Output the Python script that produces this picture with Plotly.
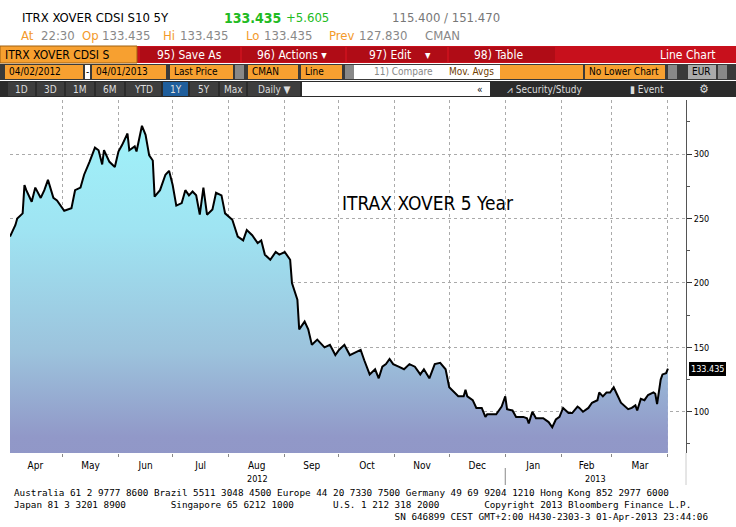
import plotly.graph_objects as go
import pandas as pd

start = "2012-04-02"
days = [0,3,4,7,8,9,12,14,17,19, 21,24,26,29,30,34,36,39,41,44, 47,49,51,52,55,58,60,62,65,66,
        69,70,73,75,77,79,80,83,86,88, 90,92,95,97,99,101,103,105,107,109, 112,114,117,119,123,126,129,131,134,137,
        139,141,144,147,149,152,155,156,159,160, 163,165,167,170,174,177,180,182,185,188,
        191,194,196,199,202,204,206,208,210,212, 215,218,221,224,227,229,232,235,
        238,241,243,245,248,251,252,253,256,258, 261,263,264,269,272,274,275,278,280,284,
        286,287,289,291,295,298,300,302,304,306, 309,311,314,315,317,320,322,325,326,328,
        330,332,334,336,338,342,344,346,347,349, 351,353,356,357,358,360,361,363,364]
values = [236,245,250,254,276,272,263,274,266,272, 280,266,264,258,256,258,272,274,284,294,
          305,303,292,303,294,290,302,307,316,303, 306,302,322,315,299,295,267,272,284,287,
          276,260,262,272,268,271,268,253,274,253, 257,270,268,254,249,236,233,241,237,231,
          233,222,218,224,222,224,218,200,187,164, 170,164,152,156,150,152,144,148,152,144,
          146,148,140,129,133,126,135,137,141,137, 135,133,137,135,129,133,126,137,
          138,133,119,116,112,112,117,112,109,103, 103,96,98,98,104,112,102,101,96,96,
          95,91,100,95,95,92,88,94,96,103, 99,99,104,103,100,103,107,109,115,112,
          115,115,119,113,107,102,103,105,101,110, 109,113,115,114,106,125,129,130,133.435]
dates = pd.to_datetime(start) + pd.to_timedelta(days, unit="D")
yticks = [100, 150, 200, 250, 300]
last_value = "133.435"

W, H = 736, 527
L, R, T, B = 10, 686, 100, 453
def px(x): return (x - L) / (R - L)
def py(y): return (B - y) / (B - T)

FONT = "DejaVu Sans Condensed, Liberation Sans Narrow, Liberation Sans, sans-serif"

fig = go.Figure()
fig.add_trace(go.Scatter(
    x=dates, y=values, mode="lines", line=dict(color="black", width=2),
    fill="tozeroy",
    fillgradient=dict(type="vertical", colorscale=[[0, "#8f94c4"], [0.25, "#9198c8"], [0.45, "#9cc2dc"], [0.75, "#9fe4f2"], [1, "#a0f2fa"]]),
    hoverinfo="x+y", showlegend=False))

fig.update_layout(
    width=W, height=H, margin=dict(l=L, r=W - R, t=T, b=H - B),
    paper_bgcolor="white", plot_bgcolor="white",
    font=dict(family=FONT, size=11, color="black"),
    xaxis=dict(range=[pd.Timestamp("2012-04-02"), pd.Timestamp("2013-04-11")],
               dtick="M1", tick0="2012-04-01", tickformat="%b", ticklabelmode="period",
               showgrid=True, griddash="dot", gridcolor="#aaaaaa", gridwidth=1,
               ticks="outside", ticklen=3, tickcolor="#888", showline=False,
               tickfont=dict(size=10, family=FONT)),
    yaxis=dict(range=[68, 342], side="right", tickvals=yticks,
               showgrid=True, griddash="dot", gridcolor="#aaaaaa",
               ticks="outside", ticklen=5, tickcolor="#333",
               minor=dict(dtick=25, ticks="outside", ticklen=3, tickcolor="#555", showgrid=False),
               showline=True, linecolor="#555", tickfont=dict(size=9, family=FONT)),
)

shapes, ann = [], []
def box(x0, x1, y0, y1, color, line=None):
    shapes.append(dict(type="rect", xref="paper", yref="paper", x0=px(x0), x1=px(x1),
                       y0=py(y1), y1=py(y0), fillcolor=color,
                       line=dict(width=0 if line is None else 1, color=line or color), layer="above"))
def txt(x, y, s, color="black", size=12, anchor="left", bold=False, fam=FONT, align="left"):
    ann.append(dict(xref="paper", yref="paper", x=px(x), y=py(y), text=("<b>%s</b>" % s) if bold else s,
                    showarrow=False, xanchor=anchor, yanchor="middle", align=align,
                    font=dict(color=color, size=size, family=fam)))

# header lines
txt(20, 18, "ITRX XOVER CDSI S10 5Y", size=13)
txt(222, 18, "133.435", color="#22bb22", size=14, bold=True)
txt(284, 18, "+5.605", color="#22bb22", size=13)
txt(390, 18, "115.400 / 151.470", color="#777", size=13)
for x, s, c in [(19, "At", "#f39a2b"), (39, "22:30", "#888"), (80, "Op", "#f39a2b"), (100, "133.435", "#888"),
                (161, "Hi", "#f39a2b"), (178, "133.435", "#888"), (244, "Lo", "#f39a2b"), (262, "133.435", "#888"),
                (327, "Prev", "#f39a2b"), (357, "127.830", "#888"), (423, "CMAN", "#888")]:
    txt(x, 36, s, color=c, size=13)

# row 1
box(0, 736, 46, 63, "#c8101c")
box(0, 137, 46, 63, "#f7a030", line="#a06010")
txt(3, 55, "ITRX XOVER CDSI S", size=12)
for x0, x1 in [(140, 240), (242, 345), (347, 447), (449, 555)]:
    box(x0, x1, 47, 62, "#b00c16")
txt(189, 55, "95) Save As", color="white", size=12, anchor="center")
txt(292, 55, "96) Actions ▾", color="white", size=12, anchor="center")
txt(400, 55, "97) Edit    ▾", color="white", size=12, anchor="center")
txt(498, 55, "98) Table", color="white", size=12, anchor="center")
txt(718, 55, "Line Chart", color="white", size=12, anchor="right")
# row 2
box(0, 736, 64, 80, "#3a3a3a")
for x0, x1, s in [(5, 83, "04/02/2012"), (92, 166, "04/01/2013"), (170, 233, "Last Price"),
                  (248, 298, "CMAN"), (301, 342, "Line"), (500, 583, ""), (585, 665, "No Lower Chart")]:
    box(x0, x1, 65, 79, "#f7a030")
    if s: txt(x0 + 2, 72, s, size=10)
box(85, 90, 65, 79, "white"); txt(87.5, 72, "-", size=10, anchor="center")
for x0 in [235, 345, 668, 718]:
    box(x0, x0 + 9, 65, 79, "#888")
box(354, 500, 65, 79, "white")
txt(372, 72, "11) Compare", color="#888", size=10)
txt(447, 72, "Mov. Avgs", color="#704000", size=10)
box(688, 716, 65, 79, "#aaaaaa"); txt(690, 72, "EUR", size=10)
# row 3
box(0, 736, 81, 97, "#2b2b2b")
for x0, x1, s in [(8, 35, "1D"), (37, 64, "3D"), (66, 94, "1M"), (96, 124, "6M"), (126, 161, "YTD"),
                  (163, 188, "1Y"), (190, 218, "5Y"), (220, 246, "Max"), (248, 300, "Daily ▼")]:
    box(x0, x1, 82, 96, "#1f5e9c" if s == "1Y" else "#3e3e3e")
    txt((x0 + x1) / 2, 89, s, color="#ddd", size=10, anchor="center")
box(302, 490, 82, 96, "white"); txt(485, 89, "«", size=10, anchor="right")
txt(505, 89, "⩘ Security/Study", color="#ddd", size=10)
txt(628, 89, "▮ Event", color="#ddd", size=10)
txt(704, 89, "⚙", color="#ddd", size=12, anchor="center")

# title in chart
txt(340, 203, "ITRAX XOVER 5 Year", size=19)
# last value label
ann.append(dict(xref="paper", yref="y", x=px(689), y=133.435, text=last_value, showarrow=False,
                xanchor="left", yanchor="middle", bgcolor="black", bordercolor="black", borderwidth=1,
                borderpad=1, font=dict(size=9, family=FONT, color="white")))
# years
txt(257, 478.5, "2012", size=9, anchor="center")
txt(595, 478.5, "2013", size=9, anchor="center")
shapes.append(dict(type="line", xref="x", yref="paper", x0="2013-01-01", x1="2013-01-01",
                   y0=py(468), y1=py(485), line=dict(color="#888", width=1)))
shapes.append(dict(type="line", xref="paper", yref="paper", x0=px(686), x1=px(686),
                   y0=py(453), y1=py(485), line=dict(color="#ccc", width=1)))
# footer
MONO = "DejaVu Sans Mono, monospace"
footer = ("Australia 61 2 9777 8600 Brazil 5511 3048 4500 Europe 44 20 7330 7500 Germany 49 69 9204 1210 Hong Kong 852 2977 6000<br>"
          "Japan 81 3 3201 8900        Singapore 65 6212 1000       U.S. 1 212 318 2000        Copyright 2013 Bloomberg Finance L.P.<br>"
          + " " * 68 + "SN 646899 CEST GMT+2:00 H430-2303-3 01-Apr-2013 23:44:06")
txt(12, 504, footer, size=9.3, fam=MONO)

fig.update_layout(shapes=shapes, annotations=ann)
fig.write_html("out.html", config={"displayModeBar": False},
               post_script="document.body.style.margin='0';")
